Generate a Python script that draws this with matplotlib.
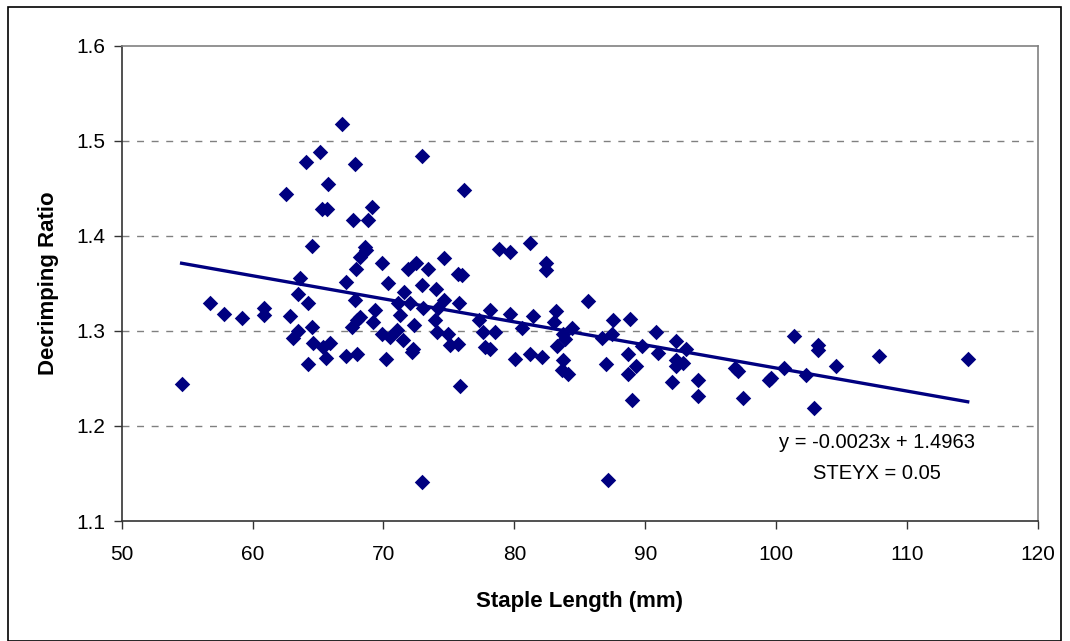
import numpy as np
import matplotlib
matplotlib.use("Agg")
import matplotlib.pyplot as plt
from matplotlib.patches import Rectangle

# staple length (mm) and decrimping ratio
staple_length = [
    66.81, 65.15, 64.06, 67.82, 65.74, 62.53, 65.28, 65.66, 67.69, 64.51,
    63.62, 67.11, 63.45, 64.21, 67.82, 56.72, 57.79, 59.17, 60.87, 60.87,
    62.86, 64.51, 67.57, 67.95, 63.45, 63.11, 64.64, 65.40, 65.91, 65.58,
    67.11, 67.95, 64.21, 54.58, 72.92, 76.13, 69.10, 68.82, 68.59, 68.66,
    68.20, 67.88, 69.86, 71.89, 72.48, 73.38, 74.62, 75.71, 75.97, 78.85,
    79.66, 70.37, 71.57, 72.92, 73.99, 74.62, 75.77, 78.14, 79.66, 69.35,
    71.13, 72.02, 73.04, 74.19, 71.26, 68.20, 69.22, 72.33, 73.93, 77.32,
    69.86, 70.50, 71.01, 71.51, 74.11, 74.95, 77.62, 78.52, 72.28, 72.15,
    75.08, 75.67, 77.75, 78.14, 70.19, 80.05, 75.84, 72.92, 87.13, 81.19,
    82.39, 82.39, 85.60, 81.44, 83.16, 83.03, 80.56, 83.74, 84.38, 83.23,
    83.87, 87.56, 88.83, 86.67, 87.43, 89.72, 90.79, 90.95, 92.32, 93.09,
    81.19, 82.09, 83.74, 83.61, 84.12, 86.97, 88.66, 89.29, 88.66, 92.32,
    92.32, 92.90, 92.02, 89.01, 94.05, 94.05, 96.85, 97.10, 97.49, 99.58,
    99.47, 100.60, 101.36, 102.25, 102.89, 103.17, 103.17, 104.55, 107.88, 114.63,
]
decrimping_ratio = [
    1.518, 1.488, 1.478, 1.476, 1.455, 1.444, 1.428, 1.428, 1.417, 1.389,
    1.356, 1.351, 1.339, 1.329, 1.333, 1.329, 1.318, 1.314, 1.324, 1.317,
    1.316, 1.304, 1.304, 1.311, 1.300, 1.292, 1.287, 1.283, 1.287, 1.271,
    1.274, 1.276, 1.265, 1.244, 1.484, 1.448, 1.430, 1.417, 1.388, 1.385,
    1.378, 1.365, 1.371, 1.365, 1.371, 1.365, 1.377, 1.360, 1.359, 1.386,
    1.383, 1.350, 1.341, 1.348, 1.344, 1.333, 1.329, 1.322, 1.318, 1.322,
    1.329, 1.329, 1.324, 1.324, 1.317, 1.315, 1.309, 1.306, 1.311, 1.311,
    1.297, 1.294, 1.301, 1.290, 1.299, 1.297, 1.299, 1.299, 1.281, 1.278,
    1.285, 1.286, 1.283, 1.281, 1.270, 1.270, 1.242, 1.141, 1.143, 1.392,
    1.371, 1.364, 1.331, 1.316, 1.321, 1.309, 1.303, 1.297, 1.303, 1.284,
    1.291, 1.311, 1.312, 1.293, 1.297, 1.284, 1.299, 1.277, 1.289, 1.281,
    1.276, 1.273, 1.269, 1.259, 1.255, 1.265, 1.276, 1.263, 1.255, 1.269,
    1.263, 1.266, 1.246, 1.227, 1.248, 1.232, 1.261, 1.258, 1.229, 1.250,
    1.248, 1.261, 1.295, 1.254, 1.219, 1.285, 1.280, 1.263, 1.274, 1.270,
]

x_ticks = [50, 60, 70, 80, 90, 100, 110, 120]
y_ticks = [1.1, 1.2, 1.3, 1.4, 1.5, 1.6]
eq_text = "y = -0.0023x + 1.4963"
steyx_text = "STEYX = 0.05"

navy = "#000080"
grey = "#808080"

plt.rcParams["font.family"] = ["Liberation Sans", "DejaVu Sans"]

fig = plt.figure(figsize=(10.70, 6.41), dpi=100)
ax = fig.add_axes([0.1137, 0.1872, 0.8564, 0.7415])

# outer chart frame
fig.patches.append(Rectangle((8 / 1070, 0.5 / 641), 1053 / 1070, 634 / 641,
                             transform=fig.transFigure, fill=False,
                             edgecolor="black", linewidth=1.2))

x = np.array(staple_length)
y = np.array(decrimping_ratio)

ax.scatter(x, y, marker="D", s=62, color=navy, linewidths=0, zorder=3)

# linear trend line over the data range
slope, intercept = np.polyfit(x, y, 1)
xs = np.array([x.min(), x.max()])
ax.plot(xs, slope * xs + intercept, color=navy, linewidth=2.4, zorder=4)

ax.set_xlim(50, 120)
ax.set_ylim(1.1, 1.6)
ax.set_xticks(x_ticks)
ax.set_yticks(y_ticks)
ax.set_yticklabels([f"{v:.1f}" for v in y_ticks])

for v in y_ticks[1:-1]:
    ax.axhline(v, color=grey, linestyle=(0, (5, 5.5)), linewidth=1.0, zorder=1)

ax.spines["left"].set_color("#333333")
ax.spines["bottom"].set_color("#333333")
ax.spines["top"].set_color(grey)
ax.spines["right"].set_color(grey)
for s in ax.spines.values():
    s.set_linewidth(1.2)

ax.tick_params(axis="both", direction="out", length=6, width=1, color="#333333",
               labelsize=15)
ax.tick_params(axis="x", pad=11)
ax.tick_params(axis="y", pad=6)

ax.set_xlabel("Staple Length (mm)", fontsize=16, fontweight="bold", labelpad=20)
ax.set_ylabel("Decrimping Ratio", fontsize=16, fontweight="bold", labelpad=12)

ax.text(107.7, 1.183, eq_text, fontsize=14.5, ha="center", va="center")
ax.text(107.7, 1.150, steyx_text, fontsize=14.5, ha="center", va="center")

fig.savefig("out.png", dpi=100)
